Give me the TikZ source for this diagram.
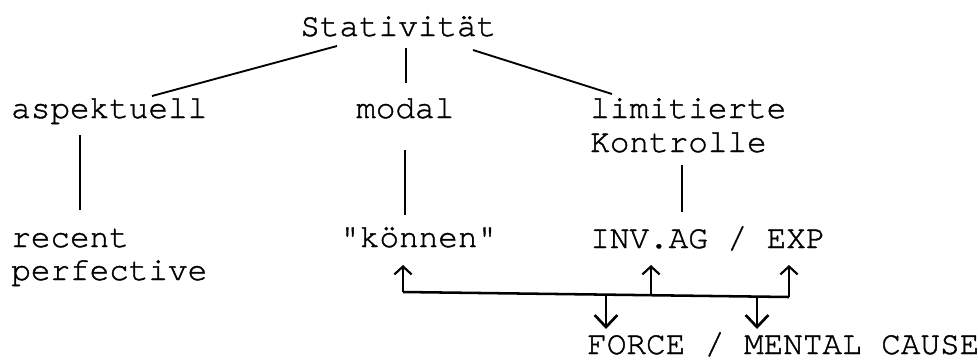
\documentclass[tikz,border=0pt]{standalone}
\usepackage{fontspec}
\setmonofont[FakeBold=1.2]{texgyrecursor-regular.otf}
\usetikzlibrary{arrows.meta}
\begin{document}
\begin{tikzpicture}[x=0.75pt,y=-0.75pt,
  lbl/.style={font=\ttfamily\fontsize{24.5}{30}\selectfont, inner sep=0pt, anchor=base west},
  edge/.style={line width=1.4pt},
  thickedge/.style={line width=2.2pt},
  uparr/.style={line width=1.8pt, -{Straight Barb[length=6pt,width=13pt,line width=1.6pt]}},
  downarr/.style={line width=2.2pt, -{Straight Barb[length=9pt,width=17pt,line width=2pt]}},
]
\useasboundingbox (0,0) rectangle (978,362);
\fill[white] (0,0) rectangle (978,362);

\node[lbl] (stat) at (300,36) {Stativität};
\node[lbl] (asp) at (11,118) {aspektuell};
\node[lbl] (modal) at (356,118) {modal};
\node[lbl] (lim) at (590,118) {limitierte};
\node[lbl] (kon) at (590,152) {Kontrolle};
\node[lbl] (rec) at (11,247) {recent};
\node[lbl] (perf) at (11,280) {perfective};
\node[lbl] (koe) at (340,247) {"können"};
\node[lbl] (inv) at (590,248) {INV.AG / EXP};
\node[lbl] (force) at (587,354) {FORCE / MENTAL CAUSE};

\draw[edge] ([shift={(37,10)}]stat.base west) -- ([shift={(141,-22)}]asp.base west);
\draw[edge] ([shift={(106,12)}]stat.base west) -- ([shift={(50,-35)}]modal.base west);
\draw[edge] ([shift={(173,14)}]stat.base west) -- ([shift={(22,-24)}]lim.base west);

\draw[thickedge] ([shift={(69,17)}]asp.base west) -- ([shift={(69,-37)}]rec.base west);
\draw[edge] ([shift={(49,32)}]modal.base west) -- ([shift={(65,-32)}]koe.base west);
\draw[thickedge] ([shift={(92,13)}]kon.base west) -- ([shift={(92,-36)}]inv.base west);

\coordinate (j1) at (403,292);
\coordinate (j2) at (606,294.5);
\coordinate (j3) at (651,295);
\coordinate (j4) at (757,296.5);
\coordinate (j5) at (789,297);
\coordinate (t1) at (403,265);
\coordinate (t3) at (651,265);
\coordinate (t5) at (789,265);
\coordinate (d2) at (606,329);
\coordinate (d4) at (757,329);

\draw[line width=1.9pt] (j1) -- (j5);
\draw[uparr] (j1) -- (t1);
\draw[uparr] (j3) -- (t3);
\draw[uparr] (j5) -- (t5);
\draw[downarr] (j2) -- (d2);
\draw[downarr] (j4) -- (d4);
\end{tikzpicture}
\end{document}
